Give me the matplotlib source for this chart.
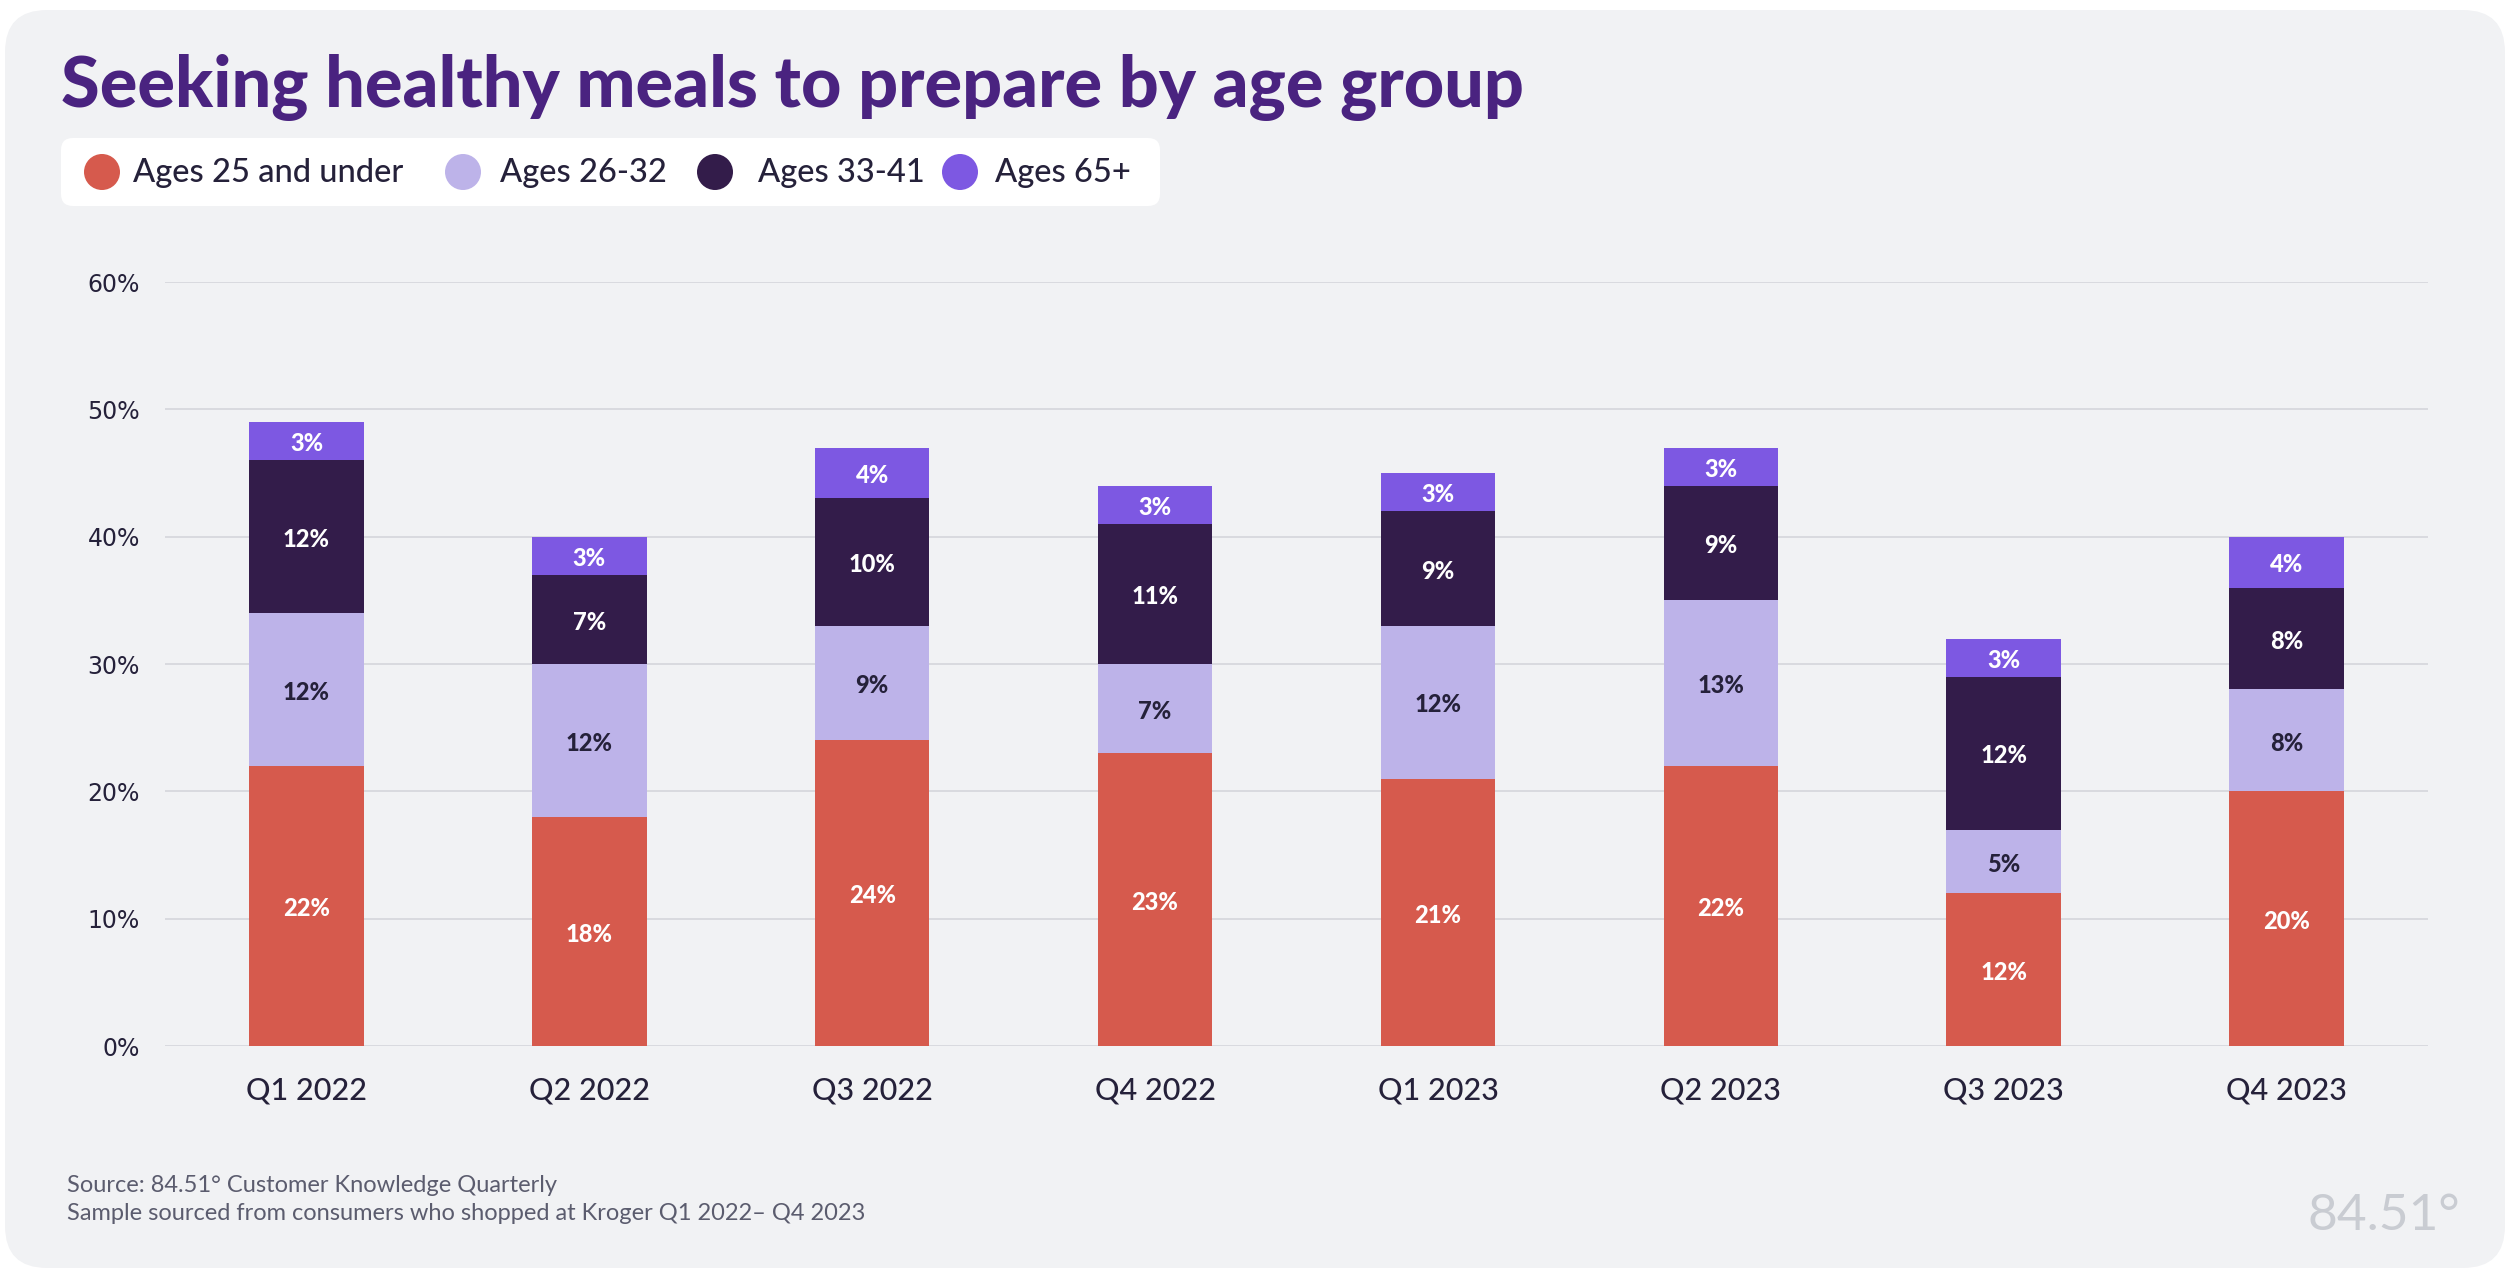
import matplotlib
matplotlib.use("Agg")
import matplotlib.pyplot as plt
from matplotlib.patches import FancyBboxPatch, Circle
from matplotlib import font_manager as fm
import numpy as np

# ---- data ----
quarters = ["Q1 2022", "Q2 2022", "Q3 2022", "Q4 2022", "Q1 2023", "Q2 2023", "Q3 2023", "Q4 2023"]
series_names = ["Ages 25 and under", "Ages 26-32", "Ages 33-41", "Ages 65+"]
ages_25_under = [22, 18, 24, 23, 21, 22, 12, 20]
ages_26_32 = [12, 12, 9, 7, 12, 13, 5, 8]
ages_33_41 = [12, 7, 10, 11, 9, 9, 12, 8]
ages_65_plus = [3, 3, 4, 3, 3, 3, 3, 4]
y_ticks = [0, 10, 20, 30, 40, 50, 60]
y_tick_labels = ["0%", "10%", "20%", "30%", "40%", "50%", "60%"]

colors = ["#d65a4d", "#bdb3e9", "#331c4a", "#7d58e2"]
label_colors = ["white", "#25213a", "white", "white"]


def _w(v):
    if isinstance(v, (int, float)):
        return int(v)
    return {"ultralight": 200, "light": 300, "normal": 400, "regular": 400, "book": 400,
            "medium": 500, "semibold": 600, "demibold": 600, "bold": 700,
            "heavy": 800, "extra bold": 800, "black": 900}.get(str(v).lower(), 400)


def pick(cands):
    entries = fm.fontManager.ttflist
    for fam, wt in cands:
        for f in entries:
            if f.name == fam and _w(f.weight) == wt:
                return fam, wt
    return "DejaVu Sans", 700


TITLE_FAM, TITLE_W = pick([("Lato", 900), ("Inter", 900), ("Roboto", 900), ("Lato", 800), ("Inter", 800), ("Lato", 700)])
LBL_FAM, LBL_W = pick([("Lato", 900), ("Inter", 800), ("Roboto", 900), ("Lato", 700)])
MED_FAM, MED_W = pick([("Lato", 500), ("Inter", 500), ("Roboto", 500), ("Lato", 400)])
FONT = "Lato"

W, H = 2516, 1278
fig = plt.figure(figsize=(W / 100, H / 100), dpi=100)
fig.patch.set_facecolor("white")

# background overlay in pixel coordinates
bg = fig.add_axes([0, 0, 1, 1], zorder=0)
bg.set_xlim(0, W)
bg.set_ylim(H, 0)
bg.axis("off")
card = FancyBboxPatch((5, 10), 2500, 1258, boxstyle="round,pad=0,rounding_size=42",
                      facecolor="#f1f2f4", edgecolor="none")
bg.add_patch(card)

# title
bg.text(61, 107, "Seeking healthy meals to prepare by age group", fontsize=50.5,
        fontweight=TITLE_W, color="#4a2380", family=TITLE_FAM, va="baseline", ha="left")

# legend box
lbox = FancyBboxPatch((61, 138), 1099, 68, boxstyle="round,pad=0,rounding_size=12",
                      facecolor="white", edgecolor="none")
bg.add_patch(lbox)
circle_x = [102, 463, 715, 960]
text_x = [133, 500, 758, 995]
for cx, tx, name, c in zip(circle_x, text_x, series_names, colors):
    bg.add_patch(Circle((cx, 172), 18, facecolor=c, edgecolor="none"))
    bg.text(tx, 173, name, fontsize=23.5, color="#25213a", family=MED_FAM, fontweight=MED_W,
            va="center", ha="left")

# footer
bg.text(67, 1192, "Source: 84.51° Customer Knowledge Quarterly", fontsize=17,
        color="#5b5c6e", family=FONT, va="baseline")
bg.text(67, 1220, "Sample sourced from consumers who shopped at Kroger Q1 2022\u2013 Q4 2023", fontsize=17,
        color="#5b5c6e", family=FONT, va="baseline")
# logo
bg.text(2460, 1230, "84.51°", fontsize=37, color="#c9ccd2", family=FONT, fontweight="normal",
        va="baseline", ha="right")

# main axes
ax = fig.add_axes([165 / W, 1 - 1046 / H, (2428 - 165) / W, (1046 - 282) / H], zorder=1)
ax.set_facecolor("none")
x = np.arange(len(quarters))
bottom = np.zeros(len(quarters))
all_series = [ages_25_under, ages_26_32, ages_33_41, ages_65_plus]
for vals, c, lc in zip(all_series, colors, label_colors):
    vals = np.array(vals, dtype=float)
    ax.bar(x, vals, bottom=bottom, width=0.405, color=c, edgecolor="none", zorder=3)
    for xi, b, v in zip(x, bottom, vals):
        ax.annotate(f"{int(v)}%", (xi, b + v / 2), xytext=(0, -2), textcoords="offset points",
                    ha="center", va="center", fontsize=17, fontweight=LBL_W, family=LBL_FAM,
                    color=lc, zorder=4)
    bottom += vals

ax.set_xlim(-0.5, 7.5)
ax.set_ylim(0, 60)
ax.set_yticks(y_ticks)
ax.set_yticklabels(y_tick_labels, family="DejaVu Sans", fontsize=17, color="#25213a")
ax.set_xticks(x)
ax.set_xticklabels(quarters, family=MED_FAM, fontweight=MED_W, fontsize=22, color="#25213a")
ax.tick_params(axis="both", length=0)
ax.tick_params(axis="y", pad=18)
ax.tick_params(axis="x", pad=22)
ax.grid(axis="y", color="#d5d6db", linewidth=1.2, zorder=0)
for s in ax.spines.values():
    s.set_visible(False)

fig.savefig("out.png", dpi=100, facecolor="white")
